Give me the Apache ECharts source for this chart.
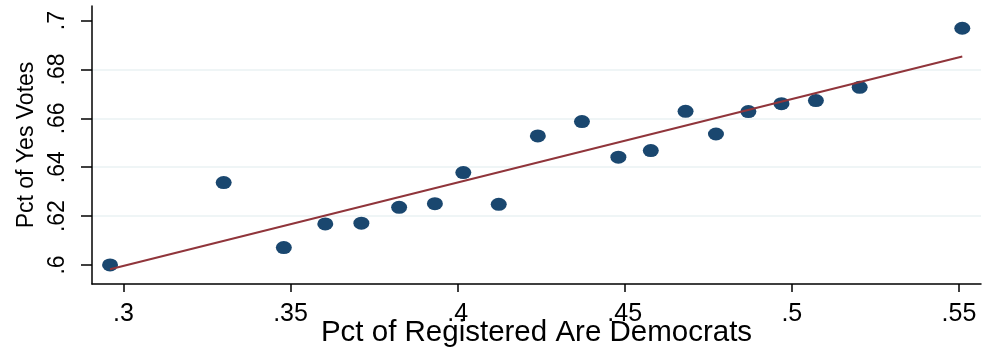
<!DOCTYPE html>
<html><head><meta charset="utf-8">
<script src="https://cdn.jsdelivr.net/npm/echarts@6/dist/echarts.min.js"></script>
<style>html,body{margin:0;padding:0;background:#fff}#c{width:984px;height:349px}</style>
</head><body><div id="c"></div>
<script>
const xTitle = 'Pct of Registered Are Democrats';
const yTitle = 'Pct of Yes Votes';
const xTicks = [0.3, 0.35, 0.4, 0.45, 0.5, 0.55];
const yTicks = [0.6, 0.62, 0.64, 0.66, 0.68, 0.7];
const pctDem = [0.296, 0.330, 0.348, 0.3604, 0.3712, 0.3825, 0.3932, 0.4017, 0.4123, 0.424, 0.4372, 0.4481, 0.4578, 0.4682, 0.4773, 0.487, 0.4969, 0.5072, 0.5203, 0.551];
const pctYes = [0.600, 0.6337, 0.6071, 0.6168, 0.6171, 0.6236, 0.6251, 0.6378, 0.6248, 0.6528, 0.6587, 0.6441, 0.6468, 0.6629, 0.6536, 0.6628, 0.666, 0.6673, 0.6727, 0.6969];
const fitX = [0.296, 0.551];
const fitY = [0.5982, 0.6853];

const fmt = v => String(+v.toFixed(3)).replace(/^0\./, '.');
const chart = echarts.init(document.getElementById('c'), null, {renderer: 'canvas'});
const font = 'Liberation Sans, Arial, sans-serif';
chart.setOption({
  animation: false,
  backgroundColor: '#fff',
  grid: {left: 92, right: 3, top: 6, bottom: 65, containLabel: false, outerBoundsMode: 'none'},
  xAxis: {
    type: 'value', min: 0.2906, max: 0.5566,
    name: xTitle, nameLocation: 'middle', nameGap: 34, nameMoveOverlap: false,
    nameTextStyle: {fontFamily: font, fontSize: 29.5, color: '#000'},
    axisLine: {show: true, onZero: false, lineStyle: {color: '#000', width: 1.5}},
    axisTick: {show: true, length: 8, customValues: xTicks, lineStyle: {color: '#000', width: 1.5}},
    axisLabel: {customValues: xTicks, formatter: fmt, margin: 18, fontFamily: font, fontSize: 25, color: '#000'},
    splitLine: {show: false}
  },
  yAxis: {
    type: 'value', min: 0.5922, max: 0.706,
    name: yTitle, nameLocation: 'middle', nameGap: 54, nameRotate: 90, nameMoveOverlap: false,
    nameTextStyle: {fontFamily: font, fontSize: 23, color: '#000'},
    axisLine: {show: true, onZero: false, lineStyle: {color: '#000', width: 1.5}},
    axisTick: {show: true, length: 11, customValues: yTicks, lineStyle: {color: '#000', width: 1.5}},
    axisLabel: {customValues: yTicks, formatter: fmt, rotate: 90, margin: 23, fontFamily: font, fontSize: 23, color: '#000'},
    splitLine: {show: true, showMinLine: false, showMaxLine: false, lineStyle: {color: '#eaf2f3', width: 1.5}}
  },
  series: [
    {
      type: 'scatter',
      data: pctDem.map((x, i) => [x, pctYes[i]]),
      symbol: 'circle', symbolSize: [16, 13],
      itemStyle: {color: '#1a476f', opacity: 1},
      z: 3
    },
    {
      type: 'line',
      data: fitX.map((x, i) => [x, fitY[i]]),
      showSymbol: false, symbol: 'none',
      lineStyle: {color: '#90353b', width: 2},
      z: 4
    }
  ]
});
</script></body></html>
